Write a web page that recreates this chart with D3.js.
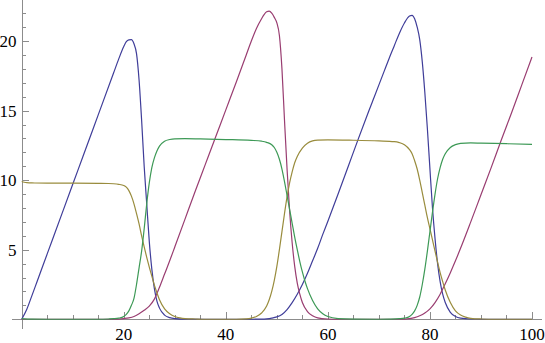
<!DOCTYPE html>
<html>
<head>
<meta charset="utf-8">
<script src="https://cdn.jsdelivr.net/npm/d3@7"></script>
<style>
  body { margin: 0; background: #fff; }
  svg { display: block; }
</style>
</head>
<body>
<svg width="545" height="343"></svg>
<script>
// values, [t, value]
var blue = [[0,0],[1,0.72],[2,1.7],[3,2.7],[4,3.7],[6,5.7],[8,7.7],[10,9.7],[12,11.7],[14,13.7],[16,15.7],[18,17.7],[19,18.7],[20,19.6],[20.5,19.95],[21,20.08],[21.5,20.1],[22,19.8],[22.5,19.1],[23,17.2],[23.5,14.3],[24,11.0],[24.5,8.3],[25,5.6],[25.5,3.6],[26,2.2],[26.5,1.3],[27,0.8],[28,0.3],[29,0.12],[30,0.05],[32,0.01],[36,0],[44,0],[47,0.01],[48,0.03],[49,0.08],[50,0.17],[51,0.35],[52,0.7],[53,1.2],[54,1.8],[55,2.5],[56,3.3],[57,4.2],[58,5.1],[59,6.1],[60,7.05],[62,9.0],[64,11.0],[66,13.0],[68,14.95],[69,15.9],[70,16.85],[71,17.8],[72,18.75],[73,19.65],[74,20.55],[75,21.3],[76,21.8],[76.5,21.85],[77,21.6],[77.5,21.0],[78,20.1],[78.5,18.5],[79,16.3],[79.5,13.7],[80,10.8],[80.5,8.0],[81,5.8],[81.5,4.0],[82,2.7],[82.5,1.8],[83,1.2],[84,0.5],[85,0.2],[86,0.08],[88,0.02],[92,0],[100,0]];

var red = [[0,0],[18,0],[20,0.05],[21,0.1],[22,0.2],[23,0.4],[24,0.65],[25,0.95],[26,1.45],[27,2.3],[28,3.25],[29,4.2],[30,5.2],[32,7.2],[34,9.2],[36,11.15],[38,13.1],[40,15.05],[42,17.0],[44,19.0],[45,20.0],[46,20.9],[47,21.6],[47.5,21.9],[48,22.1],[48.5,22.15],[49,22.0],[49.5,21.7],[50,21.3],[50.5,20.4],[51,18.0],[51.5,14.3],[52,10.8],[52.5,7.8],[53,5.5],[53.5,3.8],[54,2.6],[54.5,1.8],[55,1.2],[56,0.55],[57,0.25],[58,0.1],[60,0.02],[62,0],[74,0],[76,0.05],[77,0.12],[78,0.25],[79,0.45],[80,0.75],[81,1.2],[82,1.8],[83,2.55],[84,3.35],[85,4.2],[86,5.1],[88,7.0],[90,8.95],[92,10.9],[94,12.9],[96,14.85],[98,16.85],[100,18.85]];

var olive = [[0,9.9],[0.5,9.85],[1,9.82],[2,9.8],[5,9.79],[10,9.78],[15,9.77],[17,9.76],[18,9.74],[19,9.7],[20,9.62],[20.5,9.5],[21,9.25],[21.5,8.85],[22,8.3],[22.5,7.6],[23,6.85],[23.5,6.0],[24,5.2],[24.5,4.45],[25,3.75],[25.5,3.1],[26,2.45],[26.5,1.9],[27,1.4],[28,0.75],[29,0.4],[30,0.2],[31,0.1],[32,0.05],[34,0.02],[36,0],[42,0],[44,0.03],[45,0.08],[46,0.2],[47,0.45],[48,0.95],[48.5,1.4],[49,2.0],[49.5,2.8],[50,3.8],[50.5,5.0],[51,6.3],[51.5,7.6],[52,8.8],[52.5,9.8],[53,10.6],[53.5,11.25],[54,11.7],[55,12.3],[56,12.65],[57,12.82],[58,12.88],[60,12.9],[65,12.87],[70,12.82],[73,12.77],[74,12.7],[75,12.55],[76,12.2],[76.5,11.9],[77,11.4],[77.5,10.8],[78,10.0],[78.5,9.1],[79,8.2],[79.5,7.3],[80,6.5],[80.5,5.7],[81,4.9],[81.5,4.1],[82,3.35],[82.5,2.7],[83,2.1],[84,1.2],[85,0.6],[86,0.3],[87,0.15],[88,0.07],[90,0.02],[93,0],[100,0]];

var green = [[0,0.05],[2,0.01],[5,0],[15,0],[17,0.02],[18,0.04],[19,0.08],[20,0.2],[20.5,0.35],[21,0.6],[21.5,1.0],[22,1.5],[22.5,2.5],[23,3.7],[23.5,4.9],[24,6.5],[24.5,8.3],[25,9.8],[25.5,10.9],[26,11.6],[26.5,12.1],[27,12.45],[28,12.8],[29,12.92],[30,12.97],[32,12.98],[35,12.96],[40,12.92],[45,12.86],[47,12.8],[48,12.72],[49,12.55],[49.5,12.35],[50,12.0],[50.5,11.5],[51,10.8],[51.5,9.9],[52,8.9],[52.5,7.9],[53,6.9],[53.5,5.9],[54,5.0],[54.5,4.15],[55,3.4],[55.5,2.75],[56,2.2],[57,1.35],[58,0.75],[59,0.4],[60,0.2],[62,0.05],[65,0.01],[70,0],[72,0.01],[74,0.04],[75,0.08],[76,0.2],[76.5,0.35],[77,0.6],[77.5,1.0],[78,1.6],[78.5,2.5],[79,3.6],[79.5,4.9],[80,6.3],[80.5,7.7],[81,9.0],[81.5,10.1],[82,10.9],[82.5,11.5],[83,11.9],[84,12.35],[85,12.55],[86,12.65],[88,12.68],[90,12.66],[95,12.62],[100,12.57]];

var xTicks = [20, 40, 60, 80, 100];
var yTicks = [5, 10, 15, 20];

var series = [
  { data: blue, color: "#3f3d99" },
  { data: red, color: "#993d71" },
  { data: olive, color: "#998c3d" },
  { data: green, color: "#3d9956" }
];

var svg = d3.select("svg"),
  width = +svg.attr("width"),
  height = +svg.attr("height");

// scales (mathematica style padding around the range)
var x = d3.scaleLinear().domain([-2, 102]).range([11.5, 542.2]);
var y = d3.scaleLinear().domain([-0.7, 22.95]).range([329, 0]);

var axisColor = "#8c8c8c";
var labelFont = "'Liberation Serif', 'Times New Roman', 'DejaVu Serif', serif";

// minor ticks
var xMinor = d3.range(5, 101, 5).filter(function (d) { return d % 20 !== 0; });
var yMinor = d3.range(1, 23, 1).filter(function (d) { return d % 5 !== 0; });

var ax = svg.append("g").attr("shape-rendering", "crispEdges");

ax.append("line")
  .attr("x1", x(-2)).attr("x2", x(102))
  .attr("y1", Math.round(y(0)) + 0.5).attr("y2", Math.round(y(0)) + 0.5)
  .attr("stroke", axisColor);

ax.append("line")
  .attr("x1", Math.round(x(0)) + 0.5).attr("x2", Math.round(x(0)) + 0.5)
  .attr("y1", y(22.95)).attr("y2", y(-0.7))
  .attr("stroke", axisColor);

ax.selectAll(".xmaj").data(xTicks).enter().append("line")
  .attr("x1", function (d) { return Math.round(x(d)) + 0.5; })
  .attr("x2", function (d) { return Math.round(x(d)) + 0.5; })
  .attr("y1", Math.round(y(0))).attr("y2", Math.round(y(0)) - 7)
  .attr("stroke", axisColor);

ax.selectAll(".xmin").data(xMinor).enter().append("line")
  .attr("x1", function (d) { return Math.round(x(d)) + 0.5; })
  .attr("x2", function (d) { return Math.round(x(d)) + 0.5; })
  .attr("y1", Math.round(y(0))).attr("y2", Math.round(y(0)) - 4)
  .attr("stroke", axisColor);

ax.selectAll(".ymaj").data(yTicks).enter().append("line")
  .attr("y1", function (d) { return Math.round(y(d)) + 0.5; })
  .attr("y2", function (d) { return Math.round(y(d)) + 0.5; })
  .attr("x1", Math.round(x(0))).attr("x2", Math.round(x(0)) + 7)
  .attr("stroke", axisColor);

ax.selectAll(".ymin").data(yMinor).enter().append("line")
  .attr("y1", function (d) { return Math.round(y(d)) + 0.5; })
  .attr("y2", function (d) { return Math.round(y(d)) + 0.5; })
  .attr("x1", Math.round(x(0))).attr("x2", Math.round(x(0)) + 4)
  .attr("stroke", axisColor);

// tick labels
svg.selectAll(".xl").data(xTicks).enter().append("text")
  .attr("font-family", labelFont)
  .attr("font-size", 17)
  .attr("x", function (d) { return x(d); })
  .attr("y", 340)
  .attr("text-anchor", "middle")
  .text(function (d) { return d; });

svg.selectAll(".yl").data(yTicks).enter().append("text")
  .attr("font-family", labelFont)
  .attr("font-size", 17)
  .attr("x", 16.5)
  .attr("y", function (d) { return y(d); })
  .attr("dy", "0.35em")
  .attr("text-anchor", "end")
  .text(function (d) { return d; });

// the curves
var line = d3.line()
  .x(function (d) { return x(d[0]); })
  .y(function (d) { return y(d[1]); })
  .curve(d3.curveMonotoneX);

svg.append("g")
  .selectAll("path")
  .data(series)
  .enter()
  .append("path")
  .attr("d", function (d) { return line(d.data); })
  .attr("fill", "none")
  .attr("stroke", function (d) { return d.color; })
  .attr("stroke-width", 1.2);
</script>
</body>
</html>
